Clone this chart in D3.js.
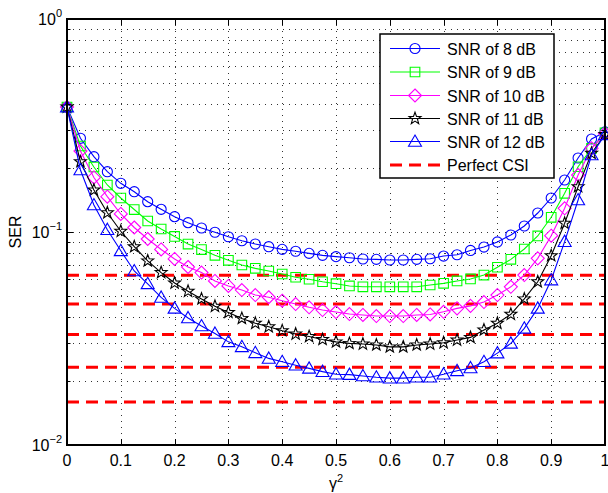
<!DOCTYPE html>
<html><head><meta charset="utf-8">
<script src="https://cdn.jsdelivr.net/npm/d3@7"></script>
<style>
html,body{margin:0;padding:0;background:#fff;}
svg text{font-family:"Liberation Sans",Arial,Helvetica,sans-serif;fill:#000;}
</style></head>
<body><svg id="chart" width="608" height="493"></svg>
<script>
// ---- data ----
const gamma2 = [0,0.025,0.05,0.075,0.1,0.125,0.15,0.175,0.2,0.225,0.25,0.275,0.3,0.325,0.35,0.375,0.4,0.425,0.45,0.475,0.5,0.525,0.55,0.575,0.6,0.625,0.65,0.675,0.7,0.725,0.75,0.775,0.8,0.825,0.85,0.875,0.9,0.925,0.95,0.975,1];
const ser8  = [0.386,0.2754,0.2257,0.1919,0.1693,0.1546,0.1388,0.1278,0.1180,0.1106,0.1044,0.0997,0.0950,0.0910,0.0878,0.0853,0.0829,0.0812,0.0794,0.0777,0.0766,0.0757,0.0747,0.0744,0.0739,0.0739,0.0744,0.0749,0.0771,0.0782,0.0819,0.0850,0.0898,0.0968,0.1067,0.1228,0.1444,0.1754,0.2226,0.2733,0.295];
const ser9  = [0.386,0.2534,0.2019,0.1662,0.1444,0.1275,0.1126,0.1033,0.0953,0.0878,0.0827,0.0777,0.0736,0.0700,0.0675,0.0656,0.0635,0.0613,0.0600,0.0584,0.0572,0.0558,0.0553,0.0553,0.0553,0.0553,0.0553,0.0564,0.0574,0.0589,0.0602,0.0628,0.0683,0.0744,0.0832,0.0958,0.1172,0.1519,0.2025,0.2472,0.292];
const ser10 = [0.386,0.2401,0.1803,0.1465,0.1215,0.1050,0.0927,0.0828,0.0747,0.0685,0.0645,0.0589,0.0558,0.0534,0.0506,0.0494,0.0476,0.0459,0.0443,0.0430,0.0421,0.0412,0.0408,0.0403,0.0403,0.0403,0.0408,0.0410,0.0422,0.0438,0.0450,0.0469,0.0506,0.0553,0.0628,0.0752,0.0961,0.1292,0.1852,0.2472,0.290];
const ser11 = [0.386,0.2138,0.1575,0.1231,0.1008,0.0853,0.0732,0.0645,0.0576,0.0527,0.0485,0.0448,0.0419,0.0393,0.0373,0.0359,0.0344,0.0332,0.0323,0.0313,0.0305,0.0300,0.0298,0.0295,0.0289,0.0289,0.0295,0.0298,0.0302,0.0311,0.0320,0.0347,0.0373,0.0411,0.0485,0.0584,0.0774,0.1099,0.1632,0.2342,0.287];
const ser12 = [0.386,0.1955,0.1339,0.1025,0.0816,0.0656,0.0571,0.0493,0.0438,0.0395,0.0362,0.0334,0.0305,0.0289,0.0271,0.0255,0.0246,0.0237,0.0229,0.0221,0.0215,0.0214,0.0211,0.0208,0.0206,0.0206,0.0208,0.0208,0.0215,0.0223,0.0230,0.0246,0.0270,0.0300,0.0353,0.0438,0.0595,0.0901,0.1413,0.2299,0.286];
const perfectCSI = [0.0626,0.0459,0.0330,0.0232,0.0159];
const seriesNames = ["SNR of 8 dB","SNR of 9 dB","SNR of 10 dB","SNR of 11 dB","SNR of 12 dB"];
const perfectName = "Perfect CSI";
const xTicks = [0,0.1,0.2,0.3,0.4,0.5,0.6,0.7,0.8,0.9,1];
const xTickLabels = ["0","0.1","0.2","0.3","0.4","0.5","0.6","0.7","0.8","0.9","1"];
const yMajor = [1,0.1,0.01];
const yMajorExp = ["0","\u22121","\u22122"];
const xLabel = "\u03b3";
const yLabel = "SER";

// ---- layout ----
const L=67,R=605,T=19,B=445;
const svg=d3.select("#chart");
const x=d3.scaleLinear().domain([0,1]).range([L,R]);
const y=d3.scaleLog().domain([0.01,1]).range([B,T]);

const styles=[
 {color:"#0000ff",marker:"circle"},
 {color:"#00ff00",marker:"square"},
 {color:"#ff00ff",marker:"diamond"},
 {color:"#000000",marker:"star"},
 {color:"#0000ff",marker:"triangle"}
];
const allSeries=[ser8,ser9,ser10,ser11,ser12];

// grid
const minorVals=[];
[0.01,0.1].forEach(d=>{for(let k=1;k<=9;k++)minorVals.push(d*k);});
minorVals.push(1);
const grid=svg.append("g").attr("stroke","#333").attr("stroke-width",1).attr("stroke-dasharray","1,5");
minorVals.filter(v=>v>0.01&&v<1).forEach(v=>{
  grid.append("line").attr("x1",L).attr("x2",R).attr("y1",Math.round(y(v))+0.5).attr("y2",Math.round(y(v))+0.5);
});
xTicks.filter(v=>v>0&&v<1).forEach(v=>{
  grid.append("line").attr("y1",T).attr("y2",B).attr("x1",Math.round(x(v))+0.5).attr("x2",Math.round(x(v))+0.5);
});

// perfect CSI lines
const pc=svg.append("g");
perfectCSI.forEach(v=>{
  pc.append("line").attr("x1",L).attr("x2",R).attr("y1",y(v)).attr("y2",y(v))
   .attr("stroke","#ff0000").attr("stroke-width",3).attr("stroke-dasharray","12,7");
});

// marker path generators
function markerPath(type){
  switch(type){
    case "circle": return d3.symbol(d3.symbolCircle,80)();
    case "square": return "M-4.8,-4.8H4.8V4.8H-4.8Z";
    case "diamond": return "M0,-6.5L6.5,0L0,6.5L-6.5,0Z";
    case "star": {
      let p="";for(let i=0;i<10;i++){const r=i%2?2.6:6.3;const a=-Math.PI/2+i*Math.PI/5;p+=(i?"L":"M")+(r*Math.cos(a)).toFixed(2)+","+(r*Math.sin(a)).toFixed(2);}return p+"Z";}
    case "triangle": return "M0,-6.5L6.5,4.8L-6.5,4.8Z";
  }
}

const line=d3.line().x((d,i)=>x(gamma2[i])).y(d=>y(d));
allSeries.forEach((s,k)=>{
  const g=svg.append("g");
  g.append("path").attr("d",line(s)).attr("fill","none").attr("stroke",styles[k].color).attr("stroke-width",1.1);
  g.selectAll("path.m").data(s).enter().append("path").attr("class","m")
   .attr("d",markerPath(styles[k].marker))
   .attr("transform",(d,i)=>`translate(${x(gamma2[i])},${y(d)})`)
   .attr("fill","none").attr("stroke",styles[k].color).attr("stroke-width",1.1);
});

// axes box
const ax=svg.append("g").attr("stroke","#000").attr("fill","none");
ax.append("rect").attr("x",L).attr("y",T).attr("width",R-L).attr("height",B-T).attr("stroke-width",2);
xTicks.forEach(v=>{
  const xx=Math.round(x(v))+0.5;
  ax.append("line").attr("x1",xx).attr("x2",xx).attr("y1",B).attr("y2",B-6).attr("stroke-width",1);
  ax.append("line").attr("x1",xx).attr("x2",xx).attr("y1",T).attr("y2",T+6).attr("stroke-width",1);
});
minorVals.forEach(v=>{
  const yy=Math.round(y(v))+0.5;
  const len=yMajor.includes(+v.toFixed(4))?6:3.5;
  ax.append("line").attr("x1",L).attr("x2",L+len).attr("y1",yy).attr("y2",yy).attr("stroke-width",1);
  ax.append("line").attr("x1",R).attr("x2",R-len).attr("y1",yy).attr("y2",yy).attr("stroke-width",1);
});

// x tick labels
svg.append("g").selectAll("text").data(xTicks).enter().append("text")
 .attr("x",d=>x(d)).attr("y",B+21).attr("text-anchor","middle").attr("font-size",16)
 .text((d,i)=>xTickLabels[i]);
// y tick labels
yMajor.forEach((v,i)=>{
  const t=svg.append("text").attr("x",62).attr("y",y(v)+6).attr("text-anchor","end").attr("font-size",16);
  t.append("tspan").text("10");
  t.append("tspan").attr("dy",-8).attr("font-size",11).text(yMajorExp[i]);
});
// axis labels
const xl=svg.append("text").attr("x",(L+R)/2).attr("y",489).attr("text-anchor","middle").attr("font-size",16);
xl.append("tspan").text(xLabel);
xl.append("tspan").attr("dy",-7).attr("font-size",11).text("2");
svg.append("text").attr("transform",`translate(21,${(T+B)/2}) rotate(-90)`).attr("text-anchor","middle").attr("font-size",16).text(yLabel);

// legend
const lg=svg.append("g");
const lx=380,ly=34,lw=174,lh=144;
lg.append("rect").attr("x",lx).attr("y",ly).attr("width",lw).attr("height",lh).attr("fill","#fff").attr("stroke","#000").attr("stroke-width",1.5);
const rowY=[48.5,72,95.5,118.5,141.5,165];
seriesNames.forEach((n,k)=>{
  lg.append("line").attr("x1",390).attr("x2",440).attr("y1",rowY[k]).attr("y2",rowY[k]).attr("stroke",styles[k].color).attr("stroke-width",1.1);
  lg.append("path").attr("d",markerPath(styles[k].marker)).attr("transform",`translate(415,${rowY[k]})`).attr("fill","none").attr("stroke",styles[k].color).attr("stroke-width",1.1);
  lg.append("text").attr("x",447).attr("y",rowY[k]+6).attr("font-size",16).text(n);
});
lg.append("line").attr("x1",390).attr("x2",440).attr("y1",rowY[5]).attr("y2",rowY[5]).attr("stroke","#ff0000").attr("stroke-width",3).attr("stroke-dasharray","12,7");
lg.append("text").attr("x",447).attr("y",rowY[5]+6).attr("font-size",16).text(perfectName);
</script></body></html>
